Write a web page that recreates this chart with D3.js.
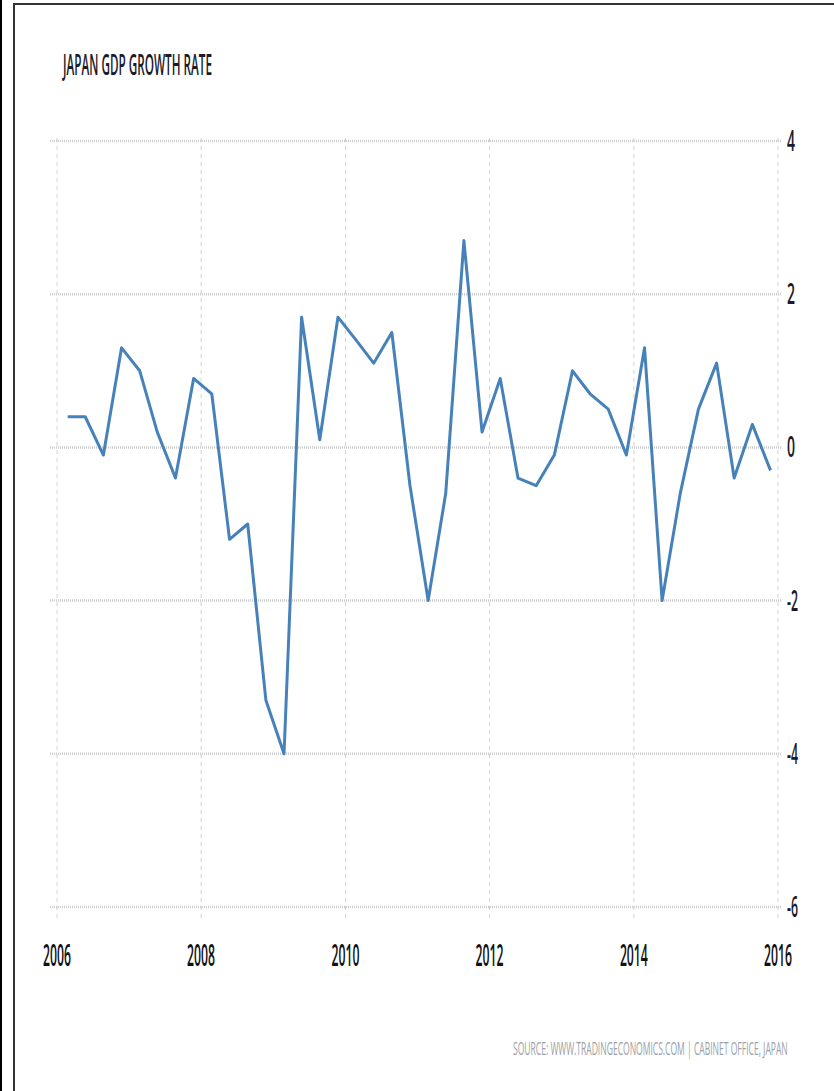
<!DOCTYPE html>
<html>
<head>
<meta charset="utf-8">
<script src="https://cdn.jsdelivr.net/npm/d3@7"></script>
<style>
  body { margin: 0; background: #fff; }
  svg { display: block; }
</style>
</head>
<body>
<div id="chart"></div>
<script>
const quarters = [
  "2006-Q1", "2006-Q2", "2006-Q3", "2006-Q4",
  "2007-Q1", "2007-Q2", "2007-Q3", "2007-Q4",
  "2008-Q1", "2008-Q2", "2008-Q3", "2008-Q4",
  "2009-Q1", "2009-Q2", "2009-Q3", "2009-Q4",
  "2010-Q1", "2010-Q2", "2010-Q3", "2010-Q4",
  "2011-Q1", "2011-Q2", "2011-Q3", "2011-Q4",
  "2012-Q1", "2012-Q2", "2012-Q3", "2012-Q4",
  "2013-Q1", "2013-Q2", "2013-Q3", "2013-Q4",
  "2014-Q1", "2014-Q2", "2014-Q3", "2014-Q4",
  "2015-Q1", "2015-Q2", "2015-Q3", "2015-Q4"
];

const growth = [
  0.4, 0.4, -0.1, 1.3,
  1.0, 0.2, -0.4, 0.9,
  0.7, -1.2, -1.0, -3.3,
  -4.0, 1.7, 0.1, 1.7,
  1.4, 1.1, 1.5, -0.5,
  -2.0, -0.6, 2.7, 0.2,
  0.9, -0.4, -0.5, -0.1,
  1.0, 0.7, 0.5, -0.1,
  1.3, -2.0, -0.6, 0.5,
  1.1, -0.4, 0.3, -0.3
];

const yTicks = [-6, -4, -2, 0, 2, 4];
const xTicks = [2006, 2008, 2010, 2012, 2014, 2016];

const title = "JAPAN GDP GROWTH RATE";
const source = "SOURCE: WWW.TRADINGECONOMICS.COM | CABINET OFFICE, JAPAN";

const width = 834, height = 1091;

// quarter label -> date (points sit a bit before quarter end, like the source)
function quarterDate(q) {
  const [yr, qq] = q.split("-Q").map(Number);
  return new Date(yr, (qq - 1) * 3 + 1, 24);
}

const data = quarters.map((q, i) => ({ date: quarterDate(q), value: growth[i] }));

const svg = d3.select("#chart")
  .append("svg")
  .attr("width", width)
  .attr("height", height);

svg.append("rect").attr("width", width).attr("height", height).attr("fill", "#fff");

// outer frame like the screenshot
svg.append("rect")
  .attr("x", 0).attr("y", 0).attr("width", 2).attr("height", height)
  .attr("fill", "#000");
svg.append("rect")
  .attr("x", 14).attr("y", 4).attr("width", width + 10).attr("height", height + 10)
  .attr("fill", "none")
  .attr("stroke", "#333")
  .attr("stroke-width", 2);

// squeezed text: the source image is narrow and tall
function narrowText(g, str, x0, y0, w, size, opts = {}) {
  const t = g.append("text")
    .attr("font-family", "'Open Sans', sans-serif")
    .attr("font-size", size)
    .attr("font-weight", opts.weight || 400)
    .attr("fill", opts.fill || "#111")
    .text(str);
  const natural = t.node().getComputedTextLength();
  const sx = w / natural;
  let left = x0;
  if (opts.anchor === "middle") left = x0 - w / 2;
  t.attr("transform", `translate(${left},${y0}) scale(${sx},1)`);
  return t;
}

const x = d3.scaleTime()
  .domain([new Date(2006, 0, 1), new Date(2016, 0, 1)])
  .range([57, 778]);

const y = d3.scaleLinear()
  .domain([-6, 4])
  .range([907, 141]);

// vertical dashed grid
svg.append("g")
  .selectAll("line")
  .data(xTicks)
  .join("line")
  .attr("x1", d => x(new Date(d, 0, 1)))
  .attr("x2", d => x(new Date(d, 0, 1)))
  .attr("y1", 138)
  .attr("y2", 922)
  .attr("stroke", "#d2d2d2")
  .attr("stroke-width", 1)
  .attr("stroke-dasharray", "4,4");

// horizontal dotted grid
svg.append("g")
  .selectAll("line")
  .data(yTicks)
  .join("line")
  .attr("x1", 50)
  .attr("x2", 781)
  .attr("y1", d => y(d))
  .attr("y2", d => y(d))
  .attr("stroke", "#cdcdcd")
  .attr("stroke-width", 2.5)
  .attr("stroke-dasharray", "1,1");

// right axis labels
const yLab = svg.append("g");
yTicks.forEach(d => {
  narrowText(yLab, String(d), 787, y(d) + 10, d < 0 ? 11 : 8, 29, { weight: 600, fill: "#1a1a2a" });
});

// bottom axis labels
const xLab = svg.append("g");
xTicks.forEach(d => {
  narrowText(xLab, String(d), x(new Date(d, 0, 1)), 966, 28, 31, { weight: 600, anchor: "middle" });
});

// the series
const line = d3.line()
  .x(d => x(d.date))
  .y(d => y(d.value));

svg.append("path")
  .datum(data)
  .attr("d", line)
  .attr("fill", "none")
  .attr("stroke", "#4682b9")
  .attr("stroke-width", 3)
  .attr("stroke-linejoin", "round");

// title
narrowText(svg, title, 63, 75, 149, 29, { weight: 600, fill: "#1a1a2a" });

// source
narrowText(svg, source, 513, 1055, 275, 19, { fill: "#9aa0a8" });
</script>
</body>
</html>
